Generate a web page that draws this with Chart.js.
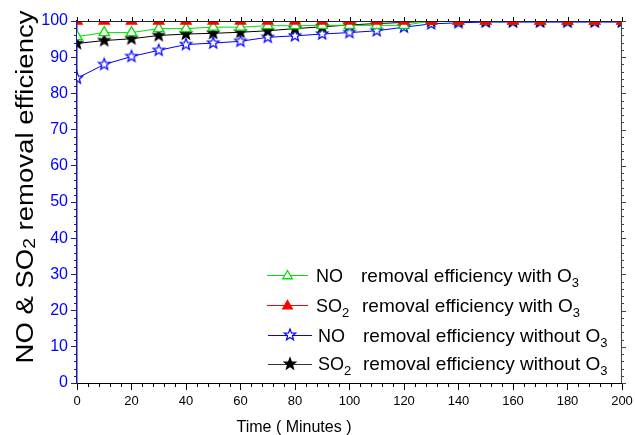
<!DOCTYPE html>
<html><head><meta charset="utf-8">
<script src="https://cdn.jsdelivr.net/npm/chart.js@4.4.0/dist/chart.umd.min.js"></script>
<style>html,body{margin:0;padding:0;background:#fff}#wrap{width:635px;height:435px}</style>
</head><body><div id="wrap"><canvas id="c" width="635" height="435"></canvas></div>
<script>
// ---- data ----
const timeMinutes = [0,10,20,30,40,50,60,70,80,90,100,110,120,130,140,150,160,170,180,190,200];
const noWithO3 = [95.7,96.8,96.8,97.9,97.9,98.3,98.3,98.7,98.7,98.8,98.8,98.8,98.8,100,100,100,100,100,100,100,100];
const so2WithO3 = [100,100,100,100,100,100,100,100,100,100,100,100,100,100,100,100,100,100,100,100,100];
const noWithoutO3 = [84.2,88.0,90.2,91.9,93.5,93.9,94.4,95.5,95.9,96.4,96.8,97.3,98.3,99.2,99.5,99.7,99.7,99.7,99.7,99.7,99.7];
const so2WithoutO3 = [93.8,94.6,95.1,96.0,96.4,96.6,96.9,97.3,97.9,98.4,98.9,99.3,99.6,100,100,100,100,100,100,100,100];
const xRange = [0, 200];
const yRange = [0, 100];
const xMajorStep = 20, xMinorStep = 4;
const yMajorStep = 10, yMinorStep = 2;
const xTitle = 'Time ( Minutes )';
const yTitleParts = [['NO & SO', false], ['2', true], [' removal efficiency', false]];
const legendLabels = [
  [['NO', false], ['removal efficiency with O', false], ['3', true]],
  [['SO', false], ['2', true], ['removal efficiency with O', false], ['3', true]],
  [['NO', false], ['removal efficiency without O', false], ['3', true]],
  [['SO', false], ['2', true], ['removal efficiency without O', false], ['3', true]]
];

const FONT = "'Liberation Sans', Arial, Helvetica, sans-serif";
const GREEN = '#00e000', RED = '#ff0000', BLUE = '#0000ff', BLACK = '#000000';
const YAXIS = '#1a1a9a';

function makeStar(fill, stroke, R) {
  const r = R * 0.42, s = Math.ceil(2 * R + 4);
  const cv = document.createElement('canvas');
  cv.width = s; cv.height = s;
  const c = cv.getContext('2d');
  c.beginPath();
  for (let i = 0; i < 10; i++) {
    const rad = (i % 2 === 0) ? R : r;
    const a = -Math.PI / 2 + i * Math.PI / 5;
    const px = s / 2 + rad * Math.cos(a), py = s / 2 + rad * Math.sin(a);
    if (i === 0) c.moveTo(px, py); else c.lineTo(px, py);
  }
  c.closePath();
  c.fillStyle = fill; c.fill();
  c.lineWidth = 1.2; c.strokeStyle = stroke; c.stroke();
  return cv;
}
const blueStar = makeStar('#ffffff', BLUE, 6);
const blackStar = makeStar(BLACK, BLACK, 6);

function pts(arr) { return timeMinutes.map((t, i) => ({x: t, y: arr[i]})); }

const base = {borderWidth: 1, pointRadius: 6, pointBorderWidth: 1.3, tension: 0, clip: 0, fill: false};

const datasets = [
  Object.assign({}, base, {label: 'SO2 with O3', data: pts(so2WithO3), borderColor: RED, pointBorderColor: RED, pointBackgroundColor: RED, pointStyle: 'triangle', order: 0}),
  Object.assign({}, base, {label: 'NO with O3', data: pts(noWithO3), borderColor: GREEN, pointBorderColor: GREEN, pointBackgroundColor: '#ffffff', pointStyle: 'triangle', order: 1}),
  Object.assign({}, base, {label: 'SO2 without O3', data: pts(so2WithoutO3), borderColor: BLACK, pointStyle: blackStar, order: 2}),
  Object.assign({}, base, {label: 'NO without O3', data: pts(noWithoutO3), borderColor: BLUE, pointStyle: blueStar, order: 3})
];

function drawTriangle(ctx, x, y, r, fill, stroke) {
  ctx.beginPath();
  let rad = 0;
  for (let i = 0; i < 3; i++) {
    const px = x + Math.sin(rad) * r, py = y - Math.cos(rad) * r;
    if (i === 0) ctx.moveTo(px, py); else ctx.lineTo(px, py);
    rad += 2 * Math.PI / 3;
  }
  ctx.closePath();
  ctx.fillStyle = fill; ctx.fill();
  ctx.lineWidth = 1.3; ctx.strokeStyle = stroke; ctx.stroke();
}

function drawParts(ctx, parts, x, y, size, subSize, subDrop) {
  let cx = x;
  parts.forEach((p) => {
    if (p[1]) { ctx.font = subSize + 'px ' + FONT; ctx.fillText(p[0], cx, y + subDrop); }
    else { ctx.font = size + 'px ' + FONT; ctx.fillText(p[0], cx, y); }
    cx += ctx.measureText(p[0]).width;
  });
  return cx - x;
}

const clipper = {
  id: 'clipper',
  beforeDatasetsDraw(chart) {
    const a = chart.chartArea, ctx = chart.ctx;
    ctx.save();
    ctx.beginPath();
    ctx.rect(a.left, a.top, a.right - a.left, a.bottom - a.top);
    ctx.clip();
  },
  afterDatasetsDraw(chart) { chart.ctx.restore(); }
};

const decor = {
  id: 'decor',
  beforeDraw(chart) {
    const ctx = chart.ctx;
    ctx.save(); ctx.fillStyle = '#fff'; ctx.fillRect(0, 0, chart.width, chart.height); ctx.restore();
  },
  afterDraw(chart) {
    const ctx = chart.ctx, xs = chart.scales.x, ys = chart.scales.y, a = chart.chartArea;
    ctx.save();
    // top and right axes
    ctx.lineWidth = 1;
    ctx.strokeStyle = '#222';
    ctx.beginPath(); ctx.moveTo(a.left, a.top + 0.5); ctx.lineTo(a.right, a.top + 0.5); ctx.stroke();
    ctx.strokeStyle = '#444';
    ctx.beginPath(); ctx.moveTo(a.right - 0.5, a.top); ctx.lineTo(a.right - 0.5, a.bottom); ctx.stroke();
    // x ticks minor (bottom) and top ticks
    ctx.strokeStyle = '#000';
    for (let v = xRange[0]; v <= xRange[1]; v += xMinorStep) {
      const px = Math.round(xs.getPixelForValue(v)) + 0.5;
      const major = v % xMajorStep === 0;
      ctx.beginPath();
      if (!major) { ctx.moveTo(px, a.bottom); ctx.lineTo(px, a.bottom + 4); }
      ctx.moveTo(px, a.top); ctx.lineTo(px, a.top - (major ? 4 : 2));
      ctx.stroke();
    }
    // y minor ticks (left) and right ticks
    for (let v = yRange[0]; v <= yRange[1]; v += yMinorStep) {
      const py = Math.round(ys.getPixelForValue(v)) + 0.5;
      const major = v % yMajorStep === 0;
      if (!major) {
        ctx.strokeStyle = YAXIS;
        ctx.beginPath(); ctx.moveTo(a.left - 3, py); ctx.lineTo(a.left, py); ctx.stroke();
      }
      ctx.strokeStyle = '#444';
      ctx.beginPath(); ctx.moveTo(a.right, py); ctx.lineTo(a.right + (major ? 4 : 2), py); ctx.stroke();
    }
    // x title
    ctx.fillStyle = '#000';
    ctx.textBaseline = 'alphabetic';
    ctx.font = '16px ' + FONT;
    ctx.textAlign = 'center';
    ctx.fillText(xTitle, 294, 432);
    ctx.textAlign = 'left';
    // y title (rotated)
    ctx.save();
    ctx.translate(33, 0);
    ctx.rotate(-Math.PI / 2);
    let w = 0;
    yTitleParts.forEach(p => { ctx.font = (p[1] ? 16 : 23) + 'px ' + FONT; w += ctx.measureText(p[0]).width; });
    const target = 353, sx = target / w;
    ctx.translate(-(187 + target / 2), 0);
    ctx.scale(sx, 1);
    drawParts(ctx, yTitleParts, 0, 0, 23, 16, 2);
    ctx.restore();
    // legend
    const rows = [
      {y: 275, base: 282, x1: 267, x2: 308, textX: [316, 361], mark: 'triG'},
      {y: 305, base: 312, x1: 267, x2: 308, textX: [316, 362], mark: 'triR'},
      {y: 335, base: 342, x1: 268, x2: 312, textX: [318, 363], mark: 'starB'},
      {y: 364, base: 370, x1: 268, x2: 312, textX: [318, 363], mark: 'starK'}
    ];
    const colors = {triG: GREEN, triR: RED, starB: BLUE, starK: '#333'};
    rows.forEach((r, i) => {
      ctx.strokeStyle = colors[r.mark]; ctx.lineWidth = 1;
      ctx.beginPath(); ctx.moveTo(r.x1, r.y + 0.5); ctx.lineTo(r.x2, r.y + 0.5); ctx.stroke();
      const mx = (r.x1 + r.x2) / 2;
      if (r.mark === 'triG') drawTriangle(ctx, mx, r.y + 1, 5.5, '#fff', GREEN);
      else if (r.mark === 'triR') drawTriangle(ctx, mx, r.y + 1, 5.5, RED, RED);
      else if (r.mark === 'starB') ctx.drawImage(blueStar, mx - blueStar.width / 2, r.y - blueStar.height / 2);
      else ctx.drawImage(blackStar, mx - blackStar.width / 2, r.y - blackStar.height / 2);
      ctx.fillStyle = '#000';
      const parts = legendLabels[i];
      const first = parts[1][1] ? parts.slice(0, 2) : parts.slice(0, 1);
      const rest = parts.slice(first.length);
      drawParts(ctx, first, r.textX[0], r.base, 18, 13, 5);
      drawParts(ctx, rest, r.textX[1], r.base, 19, 13, 5);
    });
    ctx.restore();
  }
};

new Chart(document.getElementById('c'), {
  type: 'line',
  data: {datasets},
  options: {
    responsive: false, animation: false, devicePixelRatio: 1,
    layout: {padding: {top: 21, right: 13, left: 0, bottom: 0}},
    plugins: {legend: {display: false}, tooltip: {enabled: false}},
    scales: {
      x: {type: 'linear', position: 'bottom', min: xRange[0], max: xRange[1],
        afterFit(s) { s.height = 52; s.paddingLeft = 0; s.paddingRight = 0; },
        ticks: {stepSize: xMajorStep, color: '#000', font: {size: 13, family: FONT}, padding: 4, maxRotation: 0, autoSkip: false},
        grid: {drawOnChartArea: false, tickLength: 7, tickColor: '#000', tickWidth: 1},
        border: {color: '#000', width: 1}},
      y: {type: 'linear', position: 'left', min: yRange[0], max: yRange[1],
        afterFit(s) { s.width = 77; s.paddingTop = 0; s.paddingBottom = 0; },
        ticks: {stepSize: yMajorStep, color: BLUE, font: {size: 16, family: FONT}, padding: 3},
        grid: {drawOnChartArea: false, tickLength: 6, tickColor: YAXIS, tickWidth: 1},
        border: {color: YAXIS, width: 1.5}}
    }
  },
  plugins: [clipper, decor]
});
</script>
</body></html>
